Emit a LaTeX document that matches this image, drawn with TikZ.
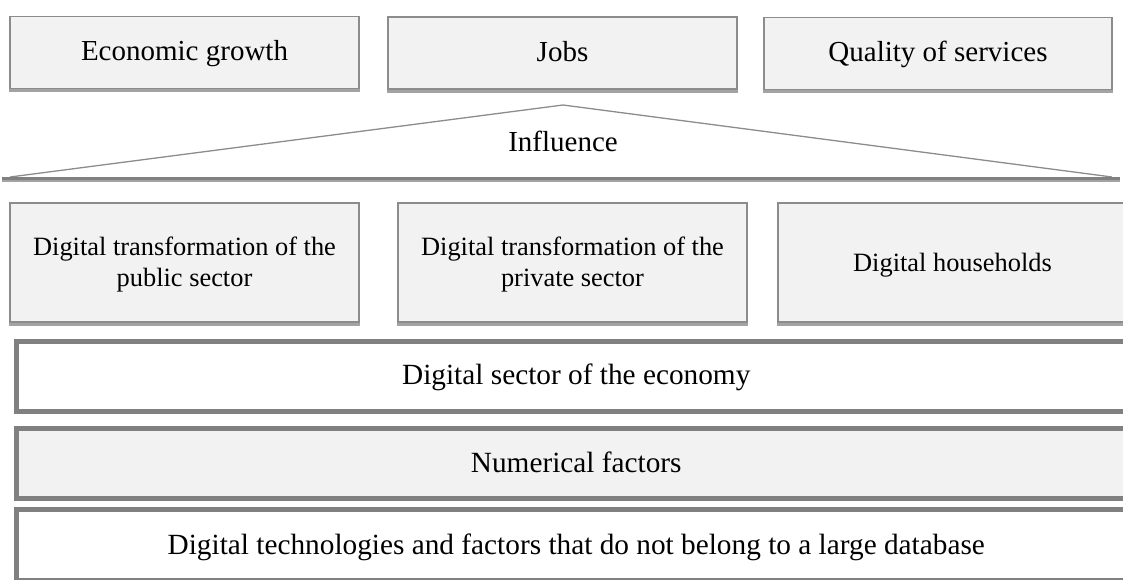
\documentclass[tikz,border=0pt]{standalone}
\usepackage{fontspec}
\setmainfont{Liberation Serif}
\definecolor{boxfill}{HTML}{F2F2F2}
\definecolor{edge}{HTML}{8C8C8C}
\definecolor{thickedge}{HTML}{808080}
\definecolor{shade}{HTML}{A3A3A3}
\begin{document}
\begin{tikzpicture}[x=1pt,y=-1pt,
  topbox/.style={draw=edge, line width=1.3pt, fill=boxfill, minimum width=349pt, minimum height=72pt, inner sep=0pt, font=\fontsize{29}{34}\selectfont, text height=19.2pt, text depth=3pt},
  midbox/.style={draw=edge, line width=1.3pt, fill=boxfill, minimum width=349pt, minimum height=119pt, inner sep=0pt, align=center, font=\fontsize{26.4}{31.5}\selectfont},
  layerbox/.style={draw=thickedge, line width=5pt, minimum width=1119.5pt, inner sep=0pt, font=\fontsize{29.3}{34}\selectfont, text height=19.4pt, text depth=0pt},
  shadowline/.style={draw=shade, line width=3pt},
  plainlabel/.style={inner sep=0pt, font=\fontsize{29}{34}\selectfont, text height=19.2pt, text depth=0pt}
]
\useasboundingbox (0,0) rectangle (1123,579);
\clip (0,0) rectangle (1123,579);

% top row
\node[topbox] (eg) at (184.5,52.5) {Economic growth};
\node[topbox] (jobs) at (562.5,53) {Jobs};
\node[topbox, minimum width=348pt] (qs) at (938,53.5) {Quality of services};
\foreach \n in {eg,jobs,qs}{
  \draw[shadowline] ([yshift=-1.8pt]\n.south west) -- ([yshift=-1.8pt]\n.south east);
}

% influence triangle
\coordinate (apex) at (563,105);
\coordinate (tl) at (10,177);
\coordinate (tr) at (1112,177);
\coordinate (bl) at (2,178.5);
\coordinate (br) at (1120,178.5);
\coordinate (sl) at (2,181);
\coordinate (sr) at (1120,181);
\draw[draw=edge, line width=1.3pt, line join=miter] (tl) -- (apex) -- (tr);
\draw[draw=thickedge, line width=2.6pt] (bl) -- (br);
\draw[draw=shade, line width=1.8pt] (sl) -- (sr);
\node[plainlabel] (infl) at (563,142) {Influence};

% middle row
\node[midbox] (pub) at (184.5,262.5) {\rule{0pt}{23pt}Digital transformation of the\\public sector};
\node[midbox] (priv) at (572.5,262.5) {\rule{0pt}{23pt}Digital transformation of the\\private sector};
\node[midbox, text height=17.5pt, text depth=0pt] (hh) at (952.5,262.5) {Digital households};
\foreach \n in {pub,priv,hh}{
  \draw[shadowline] ([yshift=-1.8pt]\n.south west) -- ([yshift=-1.8pt]\n.south east);
}

% layers
\node[layerbox, fill=white, minimum height=70.5pt, text depth=3.5pt] (sector) at (576.25,376.25) {Digital sector of the economy};
\node[layerbox, fill=boxfill, minimum height=69.5pt] (numer) at (576.25,463.25) {Numerical factors};
\node[layerbox, fill=white, minimum height=71pt] (tech) at (576.25,545) {Digital technologies and factors that do not belong to a large database};
\end{tikzpicture}
\end{document}
